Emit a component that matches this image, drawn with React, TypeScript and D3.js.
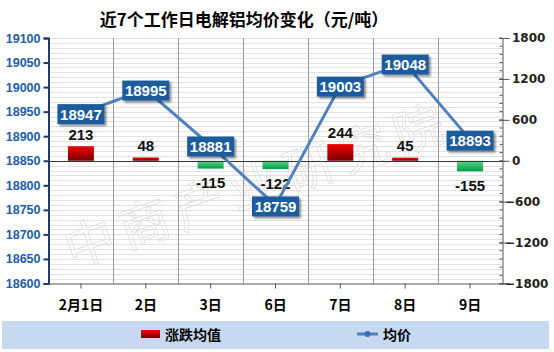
import React, { useRef, useEffect } from "react";
import * as d3 from "d3";

const days = ["2月1日", "2日", "3日", "6日", "7日", "8日", "9日"];
const avgPrice = [18947, 18995, 18881, 18759, 19003, 19048, 18893];
const change = [213, 48, -115, -122, 244, 45, -155];
const leftTicks = [18600, 18650, 18700, 18750, 18800, 18850, 18900, 18950, 19000, 19050, 19100];
const rightTicks = [-1800, -1200, -600, 0, 600, 1200, 1800];

const W = 554;
const H = 352;
const NUM_FONT = "'Liberation Sans', Arial, sans-serif";
const CJK_FONT = "'Noto Sans CJK SC', sans-serif";

const App = () => {
  const ref = useRef<SVGSVGElement>(null);

  useEffect(() => {
    const svg = d3.select(ref.current);
    svg.selectAll("*").remove();

    const left = 48.5;
    const right = 502.5;
    const top = 38;
    const bottom = 283.5;

    const x = d3.scaleBand().domain(days).range([left, right]);
    const yL = d3.scaleLinear().domain([18600, 19100]).range([bottom, top]);
    const yR = d3.scaleLinear().domain([-1800, 1800]).range([bottom, top]);
    const cx = (d: string) => (x(d) as number) + x.bandwidth() / 2;

    const defs = svg.append("defs");
    const red = defs.append("linearGradient").attr("id", "gRed").attr("x1", 0).attr("y1", 0).attr("x2", 0).attr("y2", 1);
    red.append("stop").attr("offset", "0%").attr("stop-color", "#f00000");
    red.append("stop").attr("offset", "100%").attr("stop-color", "#7a0000");
    const green = defs.append("linearGradient").attr("id", "gGreen").attr("x1", 0).attr("y1", 0).attr("x2", 0).attr("y2", 1);
    green.append("stop").attr("offset", "0%").attr("stop-color", "#5fd486");
    green.append("stop").attr("offset", "100%").attr("stop-color", "#00a04a");
    const shadow = defs.append("filter").attr("id", "shadow").attr("x", "-20%").attr("y", "-20%").attr("width", "150%").attr("height", "160%");
    shadow.append("feGaussianBlur").attr("in", "SourceAlpha").attr("stdDeviation", 1.2);
    shadow.append("feOffset").attr("dx", 2).attr("dy", 2).attr("result", "b");
    shadow.append("feComponentTransfer").append("feFuncA").attr("type", "linear").attr("slope", 0.45);
    const merge = shadow.append("feMerge");
    merge.append("feMergeNode");
    merge.append("feMergeNode").attr("in", "SourceGraphic");

    svg.append("rect").attr("width", W).attr("height", H).attr("fill", "#fff");

    // title
    svg
      .append("text")
      .attr("x", 244)
      .attr("y", 18)
      .attr("text-anchor", "middle")
      .attr("dominant-baseline", "central")
      .style("font-family", CJK_FONT)
      .style("font-weight", "bold")
      .style("font-size", "17px")
      .text("近7个工作日电解铝均价变化（元/吨）");

    // horizontal grid
    svg
      .append("g")
      .selectAll("line")
      .data(d3.range(18610, 19101, 10))
      .join("line")
      .attr("x1", left)
      .attr("x2", right)
      .attr("y1", (d) => Math.round(yL(d)) + 0.5)
      .attr("y2", (d) => Math.round(yL(d)) + 0.5)
      .attr("stroke", "#e2e2e2");

    // watermark
    svg
      .append("text")
      .attr("transform", "translate(72,268) rotate(-19)")
      .attr("fill", "none")
      .attr("stroke", "#dedede")
      .attr("stroke-width", 0.8)
      .style("font-family", CJK_FONT)
      .style("font-size", "50px")
      .style("letter-spacing", "8px")
      .text("中商产业研究院");

    // vertical grid
    svg
      .append("g")
      .selectAll("line")
      .data(days.slice(1))
      .join("line")
      .attr("x1", (d) => Math.round(x(d) as number) + 0.5)
      .attr("x2", (d) => Math.round(x(d) as number) + 0.5)
      .attr("y1", top)
      .attr("y2", bottom)
      .attr("stroke", "#9a9a9a");

    // bars
    const bw = 26;
    svg
      .append("g")
      .selectAll("rect")
      .data(change)
      .join("rect")
      .attr("x", (d, i) => cx(days[i]) - bw / 2)
      .attr("y", (d) => (d >= 0 ? yR(d) : yR(0)))
      .attr("width", bw)
      .attr("height", (d) => Math.abs(yR(d) - yR(0)))
      .attr("fill", (d) => (d >= 0 ? "url(#gRed)" : "url(#gGreen)"));

    // zero line
    svg
      .append("line")
      .attr("x1", left)
      .attr("x2", right + 3)
      .attr("y1", Math.round(yR(0)) + 0.5)
      .attr("y2", Math.round(yR(0)) + 0.5)
      .attr("stroke", "#333");

    // bar labels
    svg
      .append("g")
      .selectAll("text")
      .data(change)
      .join("text")
      .attr("x", (d, i) => cx(days[i]))
      .attr("y", (d) => (d >= 0 ? yR(d) - 12 : yR(d) + 14))
      .attr("text-anchor", "middle")
      .attr("dominant-baseline", "central")
      .attr("fill", "#111")
      .style("font-family", NUM_FONT)
      .style("font-weight", "bold")
      .style("font-size", "15px")
      .text((d) => String(d));

    // left axis
    const gl = svg
      .append("g")
      .attr("transform", `translate(${left},0)`)
      .call(d3.axisLeft(yL).tickValues(leftTicks).tickSize(5).tickPadding(3).tickFormat(d3.format("d")));
    gl.select(".domain").attr("stroke", "#1f3a6e").attr("stroke-width", 2);
    gl.selectAll(".tick line").attr("stroke", "#1f3a6e").attr("stroke-width", 2);
    gl.selectAll("text")
      .attr("fill", "#1a5ea8")
      .style("font-family", NUM_FONT)
      .style("font-weight", "bold")
      .style("font-size", "12.5px");

    // right axis
    svg
      .append("g")
      .selectAll("line")
      .data(d3.range(-1800, 1801, 120))
      .join("line")
      .attr("x1", right - 3)
      .attr("x2", right)
      .attr("y1", (d) => yR(d))
      .attr("y2", (d) => yR(d))
      .attr("stroke", "#555");
    const gr = svg
      .append("g")
      .attr("transform", `translate(${right},0)`)
      .call(d3.axisRight(yR).tickValues(rightTicks).tickSize(7).tickPadding(3).tickFormat(d3.format("d")));
    gr.select(".domain").attr("stroke", "#555");
    gr.selectAll(".tick line").attr("x1", -3.5).attr("stroke", "#555");
    gr.selectAll<SVGTextElement, number>("text")
      .attr("x", (d) => (d < 0 ? 2.5 : 9.5))
      .attr("fill", "#222")
      .style("font-family", "'DejaVu Sans', sans-serif")
      .style("font-weight", "bold")
      .style("font-size", "12px");

    // bottom axis
    const gb = svg
      .append("g")
      .attr("transform", `translate(0,${bottom})`)
      .call(d3.axisBottom(x).tickSize(5).tickSizeOuter(0));
    gb.select(".domain").attr("stroke", "#555");
    gb.selectAll(".tick line").attr("stroke", "#555");
    gb.selectAll("text")
      .attr("y", 20.5)
      .attr("dy", null)
      .attr("dominant-baseline", "central")
      .attr("fill", "#000")
      .style("font-family", CJK_FONT)
      .style("font-weight", "bold")
      .style("font-size", "14px");

    // price line
    const line = d3
      .line<number>()
      .x((d, i) => cx(days[i]))
      .y((d) => yL(d));
    svg
      .append("path")
      .datum(avgPrice)
      .attr("d", line)
      .attr("fill", "none")
      .attr("stroke", "#4f81bd")
      .attr("stroke-width", 3);

    // price labels
    const lab = svg
      .append("g")
      .selectAll("g")
      .data(avgPrice)
      .join("g")
      .attr("transform", (d, i) => `translate(${cx(days[i])},${yL(d) + 1})`);
    lab
      .append("rect")
      .attr("x", -23.5)
      .attr("y", -10)
      .attr("width", 47)
      .attr("height", 20)
      .attr("fill", "#1d5c9c")
      .attr("filter", "url(#shadow)");
    lab
      .append("text")
      .attr("text-anchor", "middle")
      .attr("dominant-baseline", "central")
      .attr("fill", "#fff")
      .style("font-family", NUM_FONT)
      .style("font-weight", "bold")
      .style("font-size", "15px")
      .text((d) => String(d));

    // legend
    svg.append("rect").attr("x", 2).attr("y", 321).attr("width", 547).attr("height", 28).attr("fill", "#c6d9f0");
    svg.append("rect").attr("x", 141).attr("y", 330).attr("width", 19).attr("height", 8).attr("fill", "url(#gRed)");
    svg
      .append("text")
      .attr("x", 165)
      .attr("y", 334)
      .attr("dominant-baseline", "central")
      .style("font-family", CJK_FONT)
      .style("font-weight", "bold")
      .style("font-size", "14px")
      .text("涨跌均值");
    svg.append("line").attr("x1", 357).attr("x2", 378).attr("y1", 334).attr("y2", 334).attr("stroke", "#4f81bd").attr("stroke-width", 3);
    svg.append("circle").attr("cx", 367.5).attr("cy", 334).attr("r", 3).attr("fill", "#3a6fb0");
    svg
      .append("text")
      .attr("x", 383)
      .attr("y", 334)
      .attr("dominant-baseline", "central")
      .style("font-family", CJK_FONT)
      .style("font-weight", "bold")
      .style("font-size", "14px")
      .text("均价");
  }, []);

  return <svg ref={ref} width={W} height={H} style={{ position: "absolute", left: 0, top: 0 }} />;
};

export default App;
